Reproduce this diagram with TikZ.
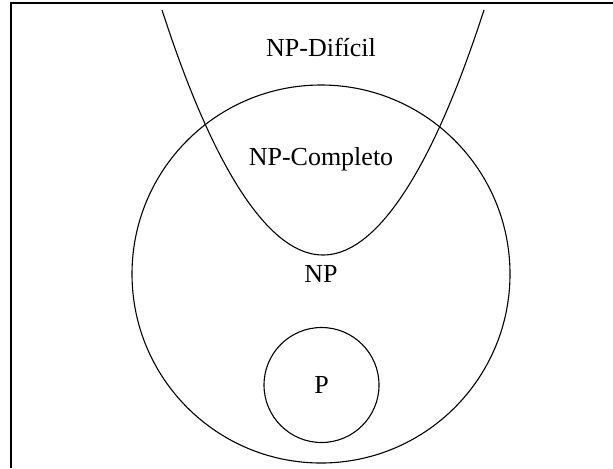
\documentclass[tikz,border=0pt]{standalone}
\usepackage{fontspec}
\setmainfont{Liberation Serif}
\usepackage{tikz}

\begin{document}
\begin{tikzpicture}[
  x=0.5pt, y=0.5pt,
  line width=0.55pt,
  classset/.style={circle, draw, inner sep=0pt, font=\fontsize{13}{15}\selectfont},
  lbl/.style={font=\fontsize{13}{15}\selectfont}
]
  \useasboundingbox (0,0) rectangle (613,468);
  % frame (left and top edges only)
  \coordinate (fb) at (11,0);
  \coordinate (fc) at (11,465);
  \coordinate (fr) at (613,465);
  \draw (fb) -- (fc) -- (fr);

  \node[classset, minimum size=189pt] (np) at (321,194) {NP};
  \node[classset, minimum size=57.5pt] (p)  at (321.5,83) {P};

  % NP-hard region
  \coordinate (hl) at (162,458);
  \coordinate (hv) at (323,213);
  \coordinate (hr) at (484,458);
  \draw (hl) parabola bend (hv) (hr);

  \node[lbl] (nph) at (321,421) {NP-Difícil};
  \node[lbl] (npc) at (321,309) {NP-Completo};
\end{tikzpicture}
\end{document}
